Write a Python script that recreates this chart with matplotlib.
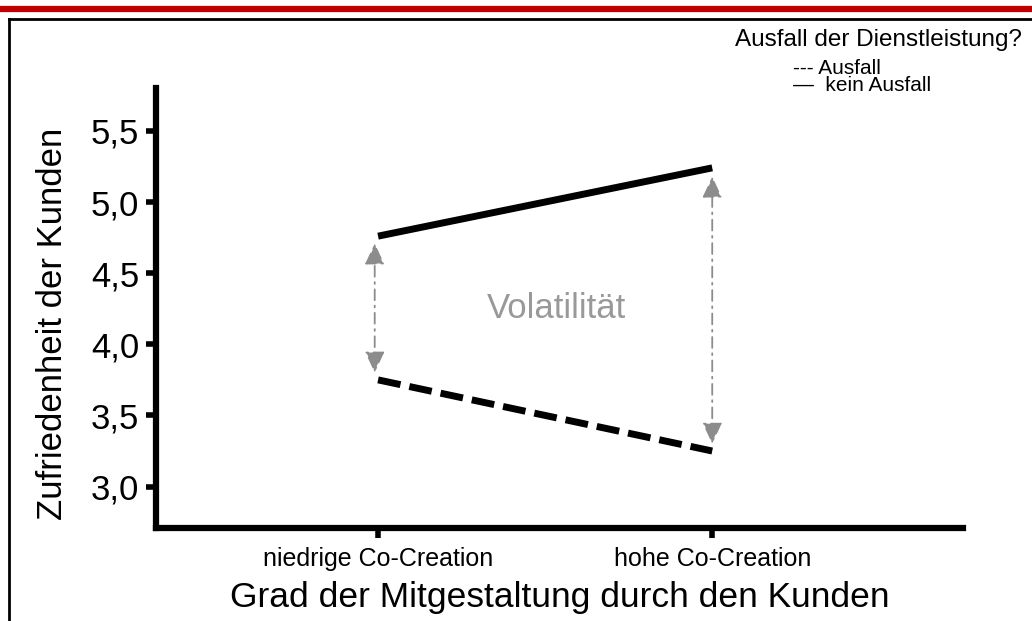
import numpy as np
import matplotlib
matplotlib.use('Agg')
from matplotlib import pyplot as plt
from matplotlib.lines import Line2D

plt.rcParams['font.family'] = ['Liberation Sans', 'DejaVu Sans']

# data
categories = ['niedrige Co-Creation', 'hohe Co-Creation']
x_pos = [1, 2]
kein_ausfall = [4.76, 5.24]
ausfall = [3.75, 3.25]
arrow_low = [3.80, 3.30]
arrow_high = [4.71, 5.18]
y_ticks = [3.0, 3.5, 4.0, 4.5, 5.0, 5.5]
y_ticklabels = ['3,0', '3,5', '4,0', '4,5', '5,0', '5,5']

fig = plt.figure(figsize=(10.32, 6.21), dpi=100)
ax = fig.add_axes([0.151, 0.150, 0.782, 0.708])

ax.plot(x_pos, kein_ausfall, '-', color='black', lw=5, solid_capstyle='butt')
ax.plot(x_pos, ausfall, '--', color='black', lw=5, dashes=(3.3, 1.3), dash_capstyle='butt')

# volatility arrows
arrow_x = [0.99, 2.0]
for xi, lo, hi in zip(arrow_x, arrow_low, arrow_high):
    ax.annotate('', xy=(xi, hi), xytext=(xi, lo),
                arrowprops=dict(arrowstyle='<|-|>,head_length=0.65,head_width=0.3',
                                color='#8c8c8c', lw=1.3, ls=(0, (6, 3, 1, 3)),
                                mutation_scale=20, shrinkA=0, shrinkB=0))
ax.text(1.533, 4.25, 'Volatilität', color='#999999', fontsize=25, ha='center', va='center')

ax.set_xlim(0.335, 2.75)
ax.set_ylim(2.71, 5.80)
ax.set_xticks(x_pos)
ax.set_xticklabels(categories, fontsize=18)
ax.set_yticks(y_ticks)
ax.set_yticklabels(y_ticklabels, fontsize=25)
ax.tick_params(axis='both', width=4, length=7, color='black')
ax.tick_params(axis='x', pad=7)
ax.tick_params(axis='y', pad=5)
for s in ['top', 'right']:
    ax.spines[s].set_visible(False)
for s in ['left', 'bottom']:
    ax.spines[s].set_linewidth(4.5)
ax.set_ylabel('Zufriedenheit der Kunden', fontsize=25)
ax.yaxis.set_label_coords(-0.108, 0.464)
ax.set_xlabel('Grad der Mitgestaltung durch den Kunden', fontsize=25.5, labelpad=7)

# legend text
fig.text(0.990, 0.935, 'Ausfall der Dienstleistung?', fontsize=17.5, ha='right', va='center')
fig.text(0.768, 0.876, '--- Ausfall\n—  kein Ausfall', fontsize=15, ha='left', va='center',
         linespacing=0.84)

# frame decoration
fig.add_artist(Line2D([0, 1], [0.9855, 0.9855], color='#c00000', lw=4.5, transform=fig.transFigure))
fig.add_artist(Line2D([0.0087, 1], [0.970, 0.970], color='black', lw=2, transform=fig.transFigure))
fig.add_artist(Line2D([0.0087, 0.0087], [0.970, 0], color='black', lw=2, transform=fig.transFigure))

fig.savefig('out.png', dpi=100)
